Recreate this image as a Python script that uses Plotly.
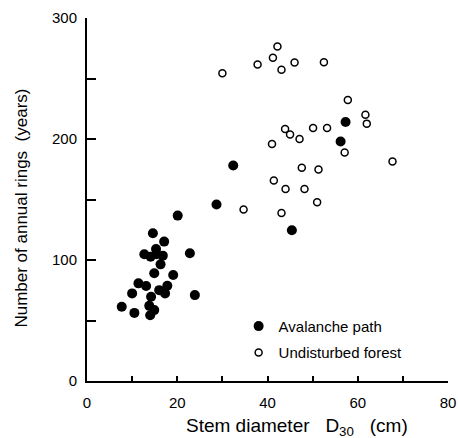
import plotly.graph_objects as go

# Avalanche path (filled circles)
aval_x = [14.6, 17.1, 12.7, 14.1, 15.3, 15.4, 16.8, 22.8, 16.3, 14.9, 19.1, 11.4, 13.1, 17.8,
          16.0, 17.3, 10.0, 23.9, 14.2, 7.7, 13.8, 14.9, 10.5, 14.0, 20.1, 28.7, 32.4, 45.4,
          57.3, 56.2]
aval_y = [122.1, 115.2, 104.7, 102.7, 109.1, 104.7, 103.6, 105.6, 96.4, 89.0, 87.6, 80.7, 78.5,
          78.7, 75.1, 72.4, 72.4, 71.0, 69.6, 61.3, 62.1, 58.6, 56.3, 54.4, 136.7, 145.8, 178.1,
          124.6, 214.1, 198.0]

# Undisturbed forest (open circles)
undist_x = [30.0, 37.8, 41.2, 42.2, 43.1, 46.0, 52.5, 57.8, 61.7, 62.0, 43.9, 45.0, 47.1, 50.1,
            53.2, 41.0, 57.1, 47.6, 51.3, 41.4, 44.0, 48.2, 51.0, 34.7, 43.1, 67.7]
undist_y = [254.3, 261.6, 267.1, 276.5, 257.2, 263.2, 263.5, 232.3, 220.1, 212.7, 208.3, 203.8,
            200.0, 209.1, 209.1, 195.9, 188.9, 176.2, 174.8, 165.7, 158.6, 158.6, 147.8, 141.7,
            138.9, 181.4]

x_tickvals = [0, 20, 40, 60, 80]
x_ticktext = ["0", "20", "40", "60", "80"]
y_tickvals = [0, 100, 200, 300]
y_ticktext = ["0", "100", "200", "300"]

x_title = "Stem diameter   D<sub>30</sub>   (cm)"
y_title = "Number of annual rings  (years)"
series_names = ["Avalanche path", "Undisturbed forest"]

FONT = "Liberation Sans, Arial, sans-serif"

fig = go.Figure()
fig.add_trace(go.Scatter(
    x=aval_x, y=aval_y, mode="markers", name=series_names[0],
    legendgroup="a",
    marker=dict(symbol="circle", size=10, color="black", line=dict(width=0)),
))
fig.add_trace(go.Scatter(
    x=undist_x, y=undist_y, mode="markers", name=series_names[1],
    legendgroup="b",
    marker=dict(symbol="circle", size=7, color="white", line=dict(color="black", width=1.5)),
))

fig.update_layout(
    width=458, height=438,
    margin=dict(l=87, r=10, t=18, b=57, pad=0),
    paper_bgcolor="white", plot_bgcolor="white",
    font=dict(family=FONT, size=15, color="black"),
    showlegend=True,
    legend=dict(
        x=0.42, y=0.196, xanchor="left", yanchor="top",
        bgcolor="rgba(0,0,0,0)", borderwidth=0,
        font=dict(family=FONT, size=15, color="black"),
        traceorder="grouped", tracegroupgap=4,
    ),
    xaxis=dict(
        range=[0, 80], tickvals=x_tickvals, ticktext=x_ticktext,
        minor=dict(dtick=10, tick0=0, ticks="inside", ticklen=5, tickwidth=1.5, tickcolor="black"),
        showline=True, linecolor="black", linewidth=2, automargin=False,
        ticks="inside", ticklen=5, tickwidth=1.5, tickcolor="black",
        showgrid=False, zeroline=False, ticklabelstandoff=7,
        tickfont=dict(family=FONT, size=15, color="black"),
    ),
    yaxis=dict(
        range=[0, 300], tickvals=y_tickvals, ticktext=y_ticktext,
        minor=dict(dtick=50, tick0=0, ticks="inside", ticklen=9, tickwidth=1.5, tickcolor="black"),
        showline=True, linecolor="black", linewidth=2, automargin=False,
        ticks="inside", ticklen=9, tickwidth=1.5, tickcolor="black",
        showgrid=False, zeroline=False, ticklabelstandoff=5,
        tickfont=dict(family=FONT, size=15, color="black"),
    ),
    annotations=[
        dict(text=x_title, xref="paper", yref="paper", x=0.582, y=-0.128,
             xanchor="center", yanchor="middle", showarrow=False,
             font=dict(family=FONT, size=19, color="black")),
        dict(text=y_title, xref="paper", yref="paper", x=-0.18, y=0.475,
             xanchor="center", yanchor="middle", textangle=-90, showarrow=False,
             font=dict(family=FONT, size=17, color="black")),
    ],
)

fig.write_html(
    "out.html",
    config={"displayModeBar": False},
    post_script="document.body.style.margin='0';document.body.style.overflow='hidden';",
)
